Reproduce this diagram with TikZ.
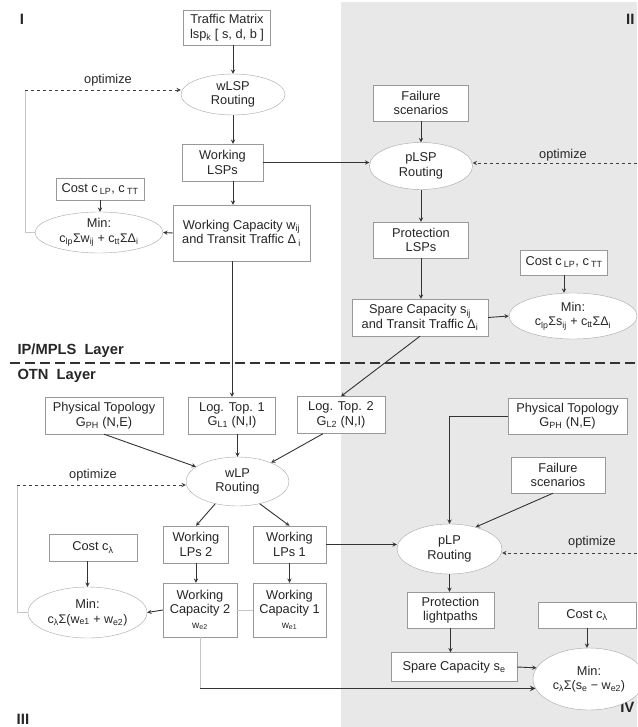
\documentclass[tikz,border=0pt]{standalone}
\usepackage{fontspec}
\setmainfont{Liberation Sans}
\usetikzlibrary{arrows,positioning,shapes.geometric}

\newcommand{\minor}{\fontsize{10}{12}\selectfont}
\newcommand{\minline}{\fontsize{12.5}{14}\selectfont}

\begin{document}
\begin{tikzpicture}[
    x=1pt, y=-1pt,
    >=stealth,
    font=\fontsize{12.8}{14.5}\selectfont,
    text=black!85,
    blk/.style={draw=gray!80, fill=white, align=center, inner sep=0pt},
    rout/.style={ellipse, draw=gray!70, fill=white, align=center,
      inner xsep=-9pt, inner ysep=-4pt},
    flow/.style={->, draw=black!80, line width=0.9pt},
    fback/.style={draw=gray!45, line width=0.7pt},
    opt/.style={->, dashed, draw=black!75, line width=0.9pt},
    lay/.style={font=\fontsize{14.7}{16}\selectfont\bfseries, anchor=west},
    quad/.style={font=\fontsize{15}{16}\selectfont\bfseries}
    ]

    \useasboundingbox (0,0) rectangle (637,727);
    % shaded half for protection
    \fill[black!9] (341,2) rectangle (637,727);

    \node [quad] (q1) at (22,19) {I};
    \node [quad,anchor=east] (q2) at (638,19) {II};
    \node [quad] (q3) at (23,719) {III};
    \node [quad,anchor=east] (q4) at (638,707) {IV};

    % IP/MPLS, working side
    \node [blk,minimum width=87pt,minimum height=35pt] (tm) at (227,27.5) {Traffic Matrix\\lsp\textsubscript{k} [ s, d, b ]};
    \node [rout,minimum width=104pt,minimum height=41pt] (wlsp) at (233,94.5) {wLSP\\Routing};
    \node [blk,minimum width=81pt,minimum height=37pt] (wlsps) at (222.5,162.5) {Working\\LSPs};
    \node [blk,minimum width=88pt,minimum height=22pt] (costa) at (100,189) {Cost c\,\textsubscript{LP}, c\,\textsubscript{TT}};
    \node [rout,minimum width=128pt,minimum height=41pt] (mina) at (99,232.5) {Min:\\{\minline c\textsubscript{lp}Σw\textsubscript{ij} + c\textsubscript{tt}ΣΔ\textsubscript{i}}};
    \node [blk,minimum width=137pt,minimum height=56pt] (wcap) at (241.5,233) {Working Capacity w\textsubscript{ij}\\and Transit Traffic Δ\,\textsubscript{i}};

    % IP/MPLS, protection side
    \node [blk,minimum width=95pt,minimum height=36pt] (fsa) at (421,103) {Failure\\scenarios};
    \node [rout,minimum width=103pt,minimum height=47pt] (plsp) at (421,166) {pLSP\\Routing};
    \node [blk,minimum width=95pt,minimum height=36pt] (plsps) at (421,240) {Protection\\LSPs};
    \node [blk,minimum width=87pt,minimum height=25pt] (costb) at (564,262.5) {Cost c\,\textsubscript{LP}, c\,\textsubscript{TT}};
    \node [blk,minimum width=136pt,minimum height=37pt] (spare) at (420,317.5) {Spare Capacity s\textsubscript{ij}\\and Transit Traffic Δ\textsubscript{i}};
    \node [rout,minimum width=128pt,minimum height=46pt] (minb) at (573,316) {Min:\\{\minline c\textsubscript{lp}Σs\textsubscript{ij} + c\textsubscript{tt}ΣΔ\textsubscript{i}}};

    % layer border
    \node [lay] (ipl) at (14,351) {IP/MPLS\ \ Layer};
    \node [lay] (otn) at (14,376) {OTN\ \ Layer};
    \coordinate (dl) at (10,363);
    \coordinate (dr) at (637,363);
    \draw [black!80,line width=2.5pt,dash pattern=on 10pt off 5pt] (dl) -- (dr);

    % OTN, working side
    \node [blk,minimum width=118pt,minimum height=37pt] (phya) at (104,415.5) {Physical Topology\\G\textsubscript{PH} (N,E)};
    \node [blk,minimum width=87pt,minimum height=37pt] (lt1) at (232,415.5) {Log. Top. 1\\G\textsubscript{L1} (N,I)};
    \node [blk,minimum width=88pt,minimum height=37pt] (lt2) at (341,415) {Log. Top. 2\\G\textsubscript{L2} (N,I)};
    \node [rout,minimum width=103pt,minimum height=49pt] (wlp) at (237.5,481.5) {wLP\\Routing};
    \node [blk,minimum width=65pt,minimum height=37pt] (wlps2) at (196,544.5) {Working\\LPs 2};
    \node [blk,minimum width=73pt,minimum height=37pt] (wlps1) at (289.5,544.5) {Working\\LPs 1};
    \node [blk,minimum width=88pt,minimum height=27pt] (costc) at (93,547.5) {Cost c\textsubscript{λ}};
    \node [rout,minimum width=119pt,minimum height=51pt] (minc) at (87.5,612.5) {Min:\\{\minline c\textsubscript{λ}Σ(w\textsubscript{e1} + w\textsubscript{e2})}};
    \node [blk,minimum width=74pt,minimum height=54pt] (wc2) at (200,610) {Working\\Capacity 2\\{\minor w\textsubscript{e2}}};
    \node [blk,minimum width=73pt,minimum height=54pt] (wc1) at (289.5,610) {Working\\Capacity 1\\{\minor w\textsubscript{e1}}};

    % OTN, protection side
    \node [blk,minimum width=119pt,minimum height=36pt] (phyb) at (567.5,416) {Physical Topology\\G\textsubscript{PH} (N,E)};
    \node [blk,minimum width=94pt,minimum height=36pt] (fsb) at (558,475) {Failure\\scenarios};
    \node [rout,minimum width=105pt,minimum height=50pt] (plp) at (449.5,549) {pLP\\Routing};
    \node [blk,minimum width=87pt,minimum height=36pt] (prl) at (450.5,610) {Protection\\lightpaths};
    \node [blk,minimum width=98pt,minimum height=26pt] (costd) at (587,615) {Cost c\textsubscript{λ}};
    \node [blk,minimum width=126pt,minimum height=29pt] (spe) at (454,667) {Spare Capacity s\textsubscript{e}};
    \node [rout,minimum width=112pt,minimum height=62pt] (mind) at (589,679) {Min:\\{\minline c\textsubscript{λ}Σ(s\textsubscript{e} − w\textsubscript{e2})}};

    % straight downward arrows
    \foreach \a/\b in {fsa/plsp,plsp/plsps,plsps/spare,costa/mina,costb/minb,
                      wlps2/wc2,wlps1/wc1,plp/prl,prl/spe,costd/mind} {
      \draw [flow] (\a.south) -- (\a.south |- \b.north);
    }
    \foreach \a/\b in {tm/wlsp,costc/minc,lt1/wlp} {
      \draw [flow] (\b.north |- \a.south) -- (\b.north);
    }
    \draw [flow] (wlsp.south) -- (wlsp.south |- wlsps.north);
    \draw [flow] (wlsp.south |- wlsps.south) -- (wlsp.south |- wcap.north);
    \draw [flow] (lt1.north |- wcap.south) -- (lt1.north);

    % sideways and slanted
    \draw [flow] (wlsps.east) -- (plsp.west |- wlsps.east);
    \draw [flow] (wcap.west) -- (mina.east);
    \draw [flow] (spare.east) -- (minb.west);
    \draw [flow] (spare.south) -- (lt2.north);
    \draw [flow] (phya.south) -- (wlp);
    \draw [flow] ([xshift=-18pt]lt2.south) -- (wlp);
    \draw [flow] (wlp.225) -- (wlps2.north);
    \draw [flow] (wlp.315) -- (wlps1.north);
    \draw [flow] (wc2.west) -- (minc.east);
    \draw [flow] (wlps1.east) -- (plp.west |- wlps1.east);
    \draw [flow] (phyb.west) -| (plp.north);
    \draw [flow] ([xshift=-5pt]fsb.south) -- (plp.40);
    \draw [flow] (spe.east) -- (mind.168);
    \draw [fback] (wc2.east) -- (wc1.west);
    \draw [fback] (wc2.south) -- (wc2.south |- mind.190);
    \draw [flow,line width=1.4pt] (wc2.south |- mind.190) -- (mind.190);

    % optimize loops
    \coordinate (ca) at (25,90);
    \coordinate (cb) at (637,163);
    \coordinate (cc) at (17,485);
    \coordinate (cd) at (637,553);
    \draw [fback] (mina.west) -| (ca);
    \draw [opt] (ca) -- (ca -| wlsp.west);
    \draw [opt] (cb) -- (cb -| plsp.east);
    \draw [fback] (minc.west) -| (cc);
    \draw [opt] (cc) -- (cc -| wlp.west);
    \draw [opt] (cd) -- (cd -| plp.east);
    \node (opa) at (108,80) {optimize};
    \node (opb) at (563,155) {optimize};
    \node (opc) at (93,475) {optimize};
    \node (opd) at (592,542) {optimize};
\end{tikzpicture}
\end{document}
